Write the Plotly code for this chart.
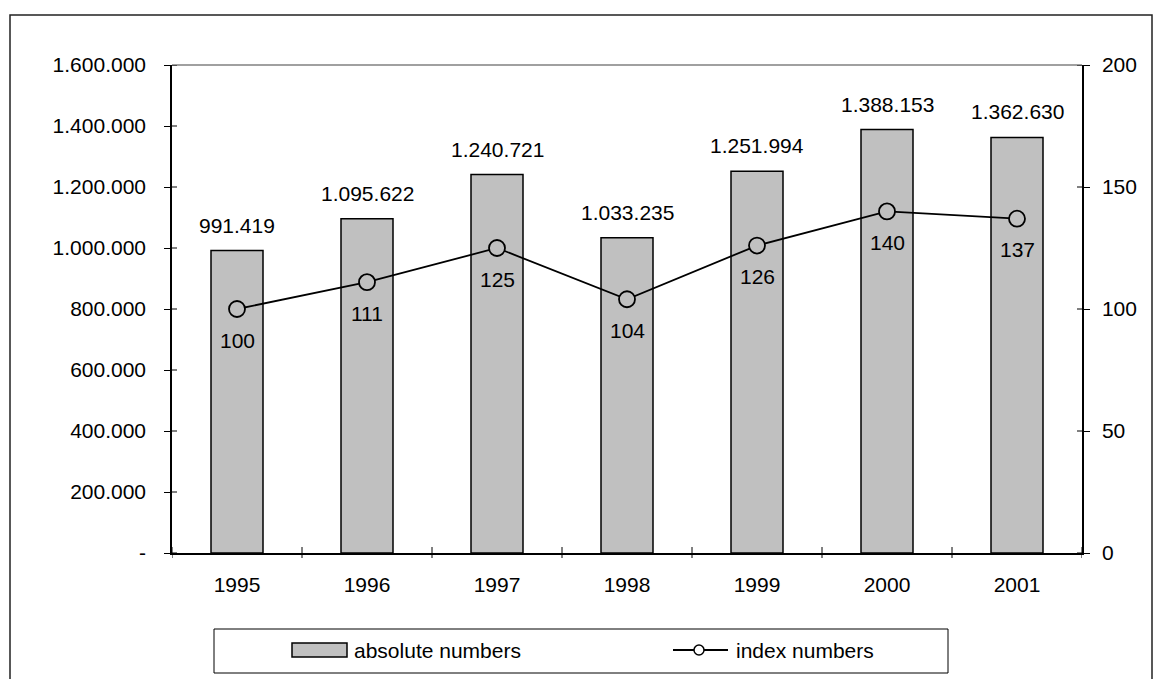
import plotly.graph_objects as go

# Data
years = ["1995", "1996", "1997", "1998", "1999", "2000", "2001"]
absolute_numbers = [991419, 1095622, 1240721, 1033235, 1251994, 1388153, 1362630]
index_numbers = [100, 111, 125, 104, 126, 140, 137]

left_ticks = [0, 200000, 400000, 600000, 800000, 1000000, 1200000, 1400000, 1600000]
left_ticktext = ["-", "200.000", "400.000", "600.000", "800.000",
                 "1.000.000", "1.200.000", "1.400.000", "1.600.000"]
right_ticks = [0, 50, 100, 150, 200]

W, H = 1154, 679
L, R, T, B = 172, 72, 65, 126
PW, PH = W - L - R, H - T - B

FONT = dict(family="Liberation Sans, Arial, sans-serif", size=21, color="black")
BAR_FILL = "#C0C0C0"

xpos = list(range(len(years)))


def fmt(v):
    return f"{v:,}".replace(",", ".")


def px(x):
    return (x - L) / PW


def py(y):
    return (H - B - y) / PH


fig = go.Figure()

fig.add_trace(go.Bar(
    x=xpos, y=absolute_numbers, name="absolute numbers",
    width=0.4, marker=dict(color=BAR_FILL, line=dict(color="black", width=1.5)),
    showlegend=False, customdata=years, hovertemplate="%{customdata}: %{y}<extra></extra>",
))

fig.add_trace(go.Scatter(
    x=xpos, y=index_numbers, name="index numbers", yaxis="y2",
    mode="lines+markers",
    line=dict(color="black", width=1.8),
    marker=dict(symbol="circle", size=16, color=BAR_FILL,
                line=dict(color="black", width=1.8)),
    showlegend=False, customdata=years, hovertemplate="%{customdata}: %{y}<extra></extra>",
))

annotations = []
for xp, v in zip(xpos, absolute_numbers):
    annotations.append(dict(x=xp, y=v, xref="x", yref="y", text=fmt(v),
                            showarrow=False, yanchor="bottom", yshift=12, font=FONT))
for xp, v in zip(xpos, index_numbers):
    annotations.append(dict(x=xp, y=v, xref="x", yref="y2", text=str(v),
                            showarrow=False, yanchor="middle", yshift=-31, font=FONT))

shapes = []
# outer chart frame
shapes.append(dict(type="rect", xref="paper", yref="paper",
                   x0=px(10), x1=px(1152), y0=py(15), y1=py(700),
                   line=dict(color="#222222", width=1.5), layer="below"))
# plot area top border
shapes.append(dict(type="line", xref="paper", yref="paper",
                   x0=0, x1=1, y0=1, y1=1, line=dict(color="#808080", width=1.5)))
# inward halves of the crossing ticks
for t in left_ticks:
    shapes.append(dict(type="line", xref="paper", yref="y", x0=0, x1=px(L + 5),
                       y0=t, y1=t, line=dict(color="black", width=1)))
for t in right_ticks:
    shapes.append(dict(type="line", xref="paper", yref="y2", x0=1, x1=px(L + PW - 5),
                       y0=t, y1=t, line=dict(color="black", width=1)))
# category boundary ticks on the x axis
for i in range(len(years) + 1):
    shapes.append(dict(type="line", xref="x", yref="paper", x0=i - 0.5, x1=i - 0.5,
                       y0=py(H - B + 5), y1=py(H - B - 6), line=dict(color="black", width=1)))

# legend box
shapes.append(dict(type="rect", xref="paper", yref="paper",
                   x0=px(214), x1=px(948), y0=py(629), y1=py(673),
                   line=dict(color="black", width=1), fillcolor="white"))
shapes.append(dict(type="rect", xref="paper", yref="paper",
                   x0=px(292), x1=px(347), y0=py(643), y1=py(657),
                   line=dict(color="black", width=1.5), fillcolor=BAR_FILL))
shapes.append(dict(type="line", xref="paper", yref="paper",
                   x0=px(673), x1=px(728), y0=py(650), y1=py(650),
                   line=dict(color="black", width=1.8)))
shapes.append(dict(type="circle", xref="paper", yref="paper",
                   x0=px(694), x1=px(704), y0=py(645), y1=py(655),
                   line=dict(color="black", width=1.5), fillcolor="white"))
annotations.append(dict(xref="paper", yref="paper", x=px(352), y=py(650),
                        text="absolute numbers", showarrow=False,
                        xanchor="left", yanchor="middle", font=FONT))
annotations.append(dict(xref="paper", yref="paper", x=px(734), y=py(650),
                        text="index numbers", showarrow=False,
                        xanchor="left", yanchor="middle", font=FONT))

fig.update_layout(
    width=W, height=H,
    margin=dict(l=L, r=R, t=T, b=B, pad=0),
    paper_bgcolor="white", plot_bgcolor="white",
    font=FONT,
    showlegend=False,
    xaxis=dict(range=[-0.5, len(years) - 0.5], tickvals=xpos, ticktext=years,
               ticks="", showline=True, linecolor="black", linewidth=1.5,
               showgrid=False, zeroline=False, ticklabelstandoff=12, fixedrange=True),
    yaxis=dict(range=[0, 1600000], tickvals=left_ticks, ticktext=left_ticktext,
               ticks="outside", ticklen=6, tickcolor="black",
               showline=True, linecolor="black", linewidth=1.5,
               showgrid=False, zeroline=False, ticklabelstandoff=14),
    yaxis2=dict(range=[0, 200], tickvals=right_ticks, overlaying="y", side="right",
                ticks="outside", ticklen=6, tickcolor="black",
                showline=True, linecolor="black", linewidth=1.5,
                showgrid=False, zeroline=False, ticklabelstandoff=8),
    shapes=shapes,
    annotations=annotations,
)

fig.write_html("out.html")
